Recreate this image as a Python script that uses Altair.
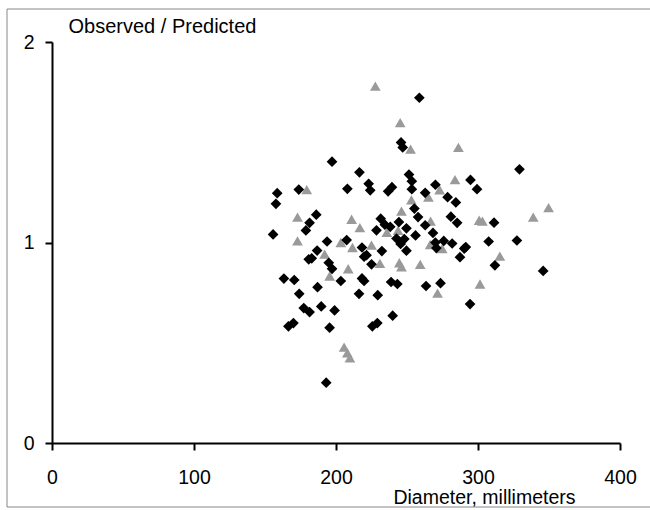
import altair as alt
import pandas as pd

# Black diamonds (series A)
a_x = [258.7, 245.8, 247.0, 197.2, 329.2, 216.5, 251.4, 253.4, 294.7, 223.0,
       270.0, 239.4, 208.0, 224.1, 173.8, 299.3, 253.4, 236.7, 158.6, 262.8,
       278.6, 157.7, 284.4, 255.2, 186.1, 257.8, 280.9, 231.5, 311.3, 181.4,
       244.3, 285.3, 234.4, 238.2, 262.8, 249.6, 178.8, 228.5, 268.3, 155.7,
       256.0, 242.6, 248.1, 207.5, 327.4, 193.7, 307.5, 270.0, 245.5, 275.9,
       281.8, 270.7, 290.3, 218.3, 291.4, 249.6, 232.3, 186.7, 221.5, 219.8,
       287.3, 182.9, 180.8, 194.9, 225.0, 311.9, 197.2, 345.9, 163.3, 170.6,
       218.3, 219.8, 203.4, 238.8, 243.2, 273.6, 263.4, 187.0, 174.1, 216.2,
       229.4, 294.4, 189.6, 177.3, 181.4, 199.0, 239.9, 170.0, 166.5, 229.1,
       225.6, 195.5, 193.1]
a_y = [1.722, 1.499, 1.474, 1.403, 1.365, 1.350, 1.339, 1.306, 1.312, 1.293,
       1.288, 1.276, 1.268, 1.260, 1.264, 1.266, 1.266, 1.255, 1.246, 1.248,
       1.226, 1.193, 1.200, 1.169, 1.139, 1.127, 1.129, 1.119, 1.099, 1.098,
       1.102, 1.098, 1.089, 1.078, 1.086, 1.071, 1.060, 1.061, 1.048, 1.040,
       1.035, 1.020, 1.017, 1.012, 1.010, 1.005, 1.005, 1.000, 0.993, 1.008,
       0.995, 0.972, 0.970, 0.975, 0.977, 0.959, 0.957, 0.960, 0.937, 0.929,
       0.927, 0.921, 0.916, 0.899, 0.891, 0.886, 0.869, 0.858, 0.820, 0.813,
       0.821, 0.808, 0.808, 0.803, 0.793, 0.797, 0.783, 0.777, 0.744, 0.744,
       0.737, 0.693, 0.681, 0.673, 0.653, 0.661, 0.635, 0.598, 0.582, 0.598,
       0.582, 0.575, 0.301]

# Gray triangles (series B)
b_x = [227.7, 245.2, 252.5, 286.2, 283.8, 179.4, 273.0, 265.1, 253.1, 349.7,
       246.1, 338.9, 172.9, 211.0, 300.8, 303.1, 266.6, 216.8, 243.7, 235.8,
       172.9, 203.4, 225.0, 266.3, 274.8, 211.6, 192.0, 315.4, 230.9, 244.6,
       246.1, 259.3, 208.6, 195.5, 301.4, 271.5, 205.7, 208.0, 209.8]
b_y = [1.780, 1.598, 1.466, 1.474, 1.314, 1.264, 1.263, 1.226, 1.213, 1.174,
       1.157, 1.127, 1.127, 1.116, 1.111, 1.107, 1.107, 1.074, 1.061, 1.050,
       1.008, 1.000, 0.987, 0.990, 0.970, 0.975, 0.942, 0.932, 0.896, 0.899,
       0.879, 0.891, 0.869, 0.833, 0.793, 0.747, 0.478, 0.450, 0.425]

x_ticks = [0, 100, 200, 300, 400]
y_ticks = [0, 1, 2]

df = pd.concat([
    pd.DataFrame({"d": a_x, "r": a_y, "g": "A"}),
    pd.DataFrame({"d": b_x, "r": b_y, "g": "B"}),
], ignore_index=True)

FONT = "Liberation Sans"

common = dict(grid=False, domain=True, ticks=True, labels=True,
              domainColor="#000000", domainWidth=2, domainOpacity=1,
              tickColor="#000000", tickWidth=2, tickSize=7, tickOpacity=1,
              labelFontSize=19.5, labelFont=FONT, labelColor="#000000",
              labelOverlap=False, labelFlush=False, format=".0f",
              titleFont=FONT, titleFontWeight="normal", titleColor="#000000",
              titleBaseline="alphabetic", zindex=1)

points = alt.Chart(df).mark_point(filled=True, opacity=1, size=115).encode(
    x=alt.X("d:Q", scale=alt.Scale(domain=[0, 400], nice=False),
            axis=alt.Axis(values=x_ticks, title="Diameter, millimeters",
                          labelPadding=18, labelBaseline="top",
                          titleFontSize=19.5, titleAlign="right",
                          titleX=523, titleY=60, titleAnchor="end", **common)),
    y=alt.Y("r:Q", scale=alt.Scale(domain=[0, 2], nice=False),
            axis=alt.Axis(values=y_ticks, title="Observed / Predicted",
                          labelPadding=11, labelBaseline="middle",
                          titleFontSize=20, titleAngle=0, titleAlign="left",
                          titleX=16, titleY=-10, titleAnchor="start", **common)),
    color=alt.Color("g:N", scale=alt.Scale(domain=["A", "B"], range=["#000000", "#9a9a9a"]),
                    legend=None),
    shape=alt.Shape("g:N", scale=alt.Scale(domain=["A", "B"], range=["diamond", "triangle-up"]),
                    legend=None),
    order=alt.Order("g:N", sort="descending"),
)

frame = alt.Chart(pd.DataFrame({"k": [0]})).mark_rect(
    fillOpacity=0, stroke="#888888", strokeWidth=1
).encode(
    x=alt.value(-45), x2=alt.value(700), y=alt.value(-33), y2=alt.value(465)
)

chart = alt.layer(points, frame).properties(
    width=568, height=401,
    background="white",
    autosize=alt.AutoSizeParams(type="none"),
    padding={"left": 52, "top": 42, "right": 30, "bottom": 67},
).configure_view(stroke=None)

chart.save("out.html", embed_options={"renderer": "svg", "actions": False})
